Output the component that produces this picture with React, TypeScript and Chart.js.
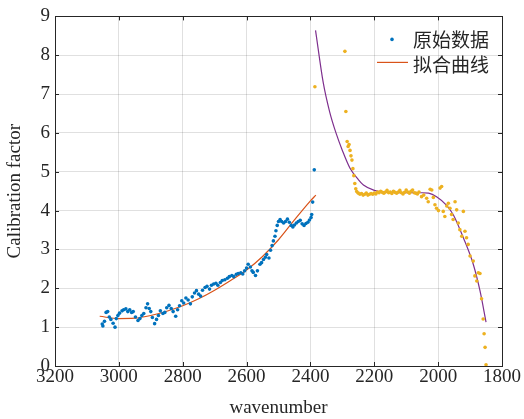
import React, { useEffect, useRef } from "react";
import { Chart, registerables } from "chart.js";
Chart.register(...registerables);

// Left block: raw data (blue) and its fit (orange)
const rawX1 = [3052, 3050, 3045, 3040, 3035, 3030, 3025, 3018, 3012, 3008, 3003, 2998, 2990, 2985, 2978, 2972, 2966, 2960, 2955, 2948, 2940, 2934, 2928, 2922, 2915, 2910, 2905, 2900, 2895, 2888, 2882, 2876, 2870, 2862, 2856, 2850, 2843, 2836, 2830, 2822, 2816, 2810, 2803, 2797, 2790, 2783, 2776, 2770, 2763, 2757, 2750, 2744, 2738, 2730, 2724, 2716, 2710, 2703, 2696, 2690, 2682, 2676, 2668, 2660, 2654, 2646, 2640, 2632, 2626, 2618, 2612, 2606, 2600, 2595, 2588, 2583, 2579, 2572, 2566, 2558, 2553, 2547, 2541, 2537, 2530, 2525, 2520, 2516, 2511, 2508, 2504, 2500, 2495, 2490, 2484, 2478, 2472, 2466, 2460, 2455, 2450, 2444, 2438, 2432, 2426, 2420, 2414, 2408, 2403, 2398, 2396, 2393, 2388];
const rawY1 = [1.08, 1.03, 1.15, 1.38, 1.4, 1.26, 1.2, 1.1, 1.0, 1.22, 1.3, 1.36, 1.42, 1.45, 1.47, 1.4, 1.45, 1.38, 1.4, 1.26, 1.17, 1.22, 1.3, 1.35, 1.5, 1.6, 1.48, 1.4, 1.25, 1.09, 1.2, 1.3, 1.42, 1.35, 1.38, 1.5, 1.56, 1.48, 1.4, 1.28, 1.45, 1.55, 1.68, 1.62, 1.75, 1.7, 1.6, 1.78, 1.88, 1.94, 1.85, 1.8, 1.95, 2.02, 2.05, 1.98, 2.08, 2.11, 2.13, 2.08, 2.15, 2.2, 2.22, 2.26, 2.3, 2.33, 2.3, 2.36, 2.38, 2.4, 2.37, 2.45, 2.52, 2.62, 2.55, 2.45, 2.41, 2.33, 2.45, 2.62, 2.66, 2.74, 2.8, 2.87, 2.78, 2.98, 3.1, 3.22, 3.34, 3.48, 3.62, 3.72, 3.77, 3.72, 3.68, 3.72, 3.78, 3.7, 3.62, 3.58, 3.63, 3.68, 3.72, 3.75, 3.66, 3.62, 3.67, 3.7, 3.76, 3.82, 3.9, 4.22, 5.05];
const fitX1 = [3060, 3000, 2950, 2900, 2850, 2800, 2750, 2700, 2650, 2600, 2550, 2500, 2450, 2400, 2383];
const fitY1 = [1.28, 1.22, 1.23, 1.3, 1.41, 1.55, 1.73, 1.95, 2.2, 2.47, 2.82, 3.25, 3.76, 4.25, 4.4];

// Right block: raw data (yellow) and its fit (purple)
const rawX2 = [2386, 2292, 2289, 2285, 2282, 2279, 2276, 2273, 2270, 2267, 2264, 2261, 2258, 2255, 2250, 2245, 2240, 2235, 2230, 2225, 2220, 2215, 2210, 2205, 2200, 2195, 2190, 2185, 2180, 2175, 2170, 2165, 2160, 2155, 2150, 2145, 2140, 2135, 2130, 2125, 2120, 2115, 2110, 2105, 2100, 2095, 2090, 2085, 2080, 2075, 2070, 2065, 2060, 2052, 2045, 2036, 2031, 2025, 2020, 2015, 2010, 2005, 1999, 1994, 1989, 1984, 1979, 1973, 1968, 1963, 1958, 1953, 1947, 1942, 1937, 1932, 1926, 1921, 1916, 1911, 1906, 1900, 1890, 1885, 1879, 1874, 1869, 1864, 1859, 1856, 1853, 1850];
const rawY2 = [7.19, 8.1, 6.55, 5.78, 5.65, 5.7, 5.55, 5.41, 5.3, 5.08, 4.9, 4.7, 4.56, 4.49, 4.45, 4.42, 4.44, 4.4, 4.42, 4.45, 4.4, 4.42, 4.44, 4.42, 4.45, 4.43, 4.48, 4.46, 4.5, 4.47, 4.45, 4.48, 4.52, 4.46, 4.48, 4.44, 4.5, 4.47, 4.45, 4.48, 4.52, 4.46, 4.43, 4.47, 4.53, 4.48, 4.45, 4.5, 4.53, 4.46, 4.45, 4.43, 4.48, 4.36, 4.4, 4.32, 4.23, 4.55, 4.53, 4.34, 4.15, 4.06, 4.0, 4.58, 4.62, 3.98, 3.85, 4.12, 4.19, 4.06, 3.9, 3.77, 4.23, 4.02, 3.68, 3.51, 3.34, 3.98, 3.47, 3.3, 3.13, 2.83, 2.7, 2.32, 2.19, 2.4, 2.38, 1.73, 1.21, 0.83, 0.48, 0.03];
const fitX2 = [2384, 2360, 2340, 2320, 2300, 2276, 2250, 2234, 2200, 2182, 2150, 2100, 2050, 2030, 2005, 1975, 1953, 1921, 1890, 1869, 1850];
const fitY2 = [8.64, 7.3, 6.55, 6.0, 5.55, 5.09, 4.8, 4.66, 4.52, 4.49, 4.47, 4.46, 4.46, 4.45, 4.36, 4.15, 3.9, 3.3, 2.62, 1.94, 1.13];

const xTicks = [3200, 3000, 2800, 2600, 2400, 2200, 2000, 1800];
const yTicks = [0, 1, 2, 3, 4, 5, 6, 7, 8, 9];
const legendLabels = ["原始数据", "拟合曲线"];
const xTitle = "wavenumber";
const yTitle = "Calibration factor";

const BLUE = "#0072BD";
const ORANGE = "#D95319";
const YELLOW = "#EDB120";
const PURPLE = "#7E2F8E";
const SERIF = "'Liberation Serif', 'Times New Roman', serif";

const zip = (xs: number[], ys: number[]) => xs.map((x, i) => ({ x, y: ys[i] }));

const framePlugin = {
  id: "frame",
  afterDraw(chart: any) {
    const { ctx, chartArea: a, scales } = chart;
    ctx.save();
    ctx.strokeStyle = "#262626";
    ctx.lineWidth = 1;
    ctx.strokeRect(Math.round(a.left) + 0.5, Math.round(a.top) + 0.5, Math.round(a.right - a.left), Math.round(a.bottom - a.top));
    const tl = 4;
    ctx.beginPath();
    xTicks.forEach((v) => {
      const px = Math.round(scales.x.getPixelForValue(v)) + 0.5;
      ctx.moveTo(px, a.bottom);
      ctx.lineTo(px, a.bottom - tl);
      ctx.moveTo(px, a.top);
      ctx.lineTo(px, a.top + tl);
    });
    yTicks.forEach((v) => {
      const py = Math.round(scales.y.getPixelForValue(v)) + 0.5;
      ctx.moveTo(a.left, py);
      ctx.lineTo(a.left + tl, py);
      ctx.moveTo(a.right, py);
      ctx.lineTo(a.right - tl, py);
    });
    ctx.stroke();

    // legend (top right, inside the axes, no box)
    const lx = a.right - 125;
    const ly = a.top + 23;
    ctx.fillStyle = BLUE;
    ctx.beginPath();
    ctx.arc(lx + 15, ly, 1.8, 0, Math.PI * 2);
    ctx.fill();
    ctx.strokeStyle = ORANGE;
    ctx.lineWidth = 1.2;
    ctx.beginPath();
    ctx.moveTo(lx, ly + 23);
    ctx.lineTo(lx + 31, ly + 23);
    ctx.stroke();
    ctx.fillStyle = "#262626";
    ctx.font = "19px 'Noto Sans CJK SC'";
    ctx.textBaseline = "middle";
    ctx.textAlign = "left";
    ctx.fillText(legendLabels[0], lx + 36, ly);
    ctx.fillText(legendLabels[1], lx + 36, ly + 25);
    ctx.restore();
  },
};

export default function App() {
  const ref = useRef<HTMLCanvasElement>(null);
  useEffect(() => {
    document.body.style.margin = "0";
    Chart.defaults.font.family = SERIF;
    Chart.defaults.font.size = 19;
    const chart = new Chart(ref.current!, {
      type: "scatter",
      data: {
        datasets: [
          { label: legendLabels[0], data: zip(rawX1, rawY1), showLine: false, pointRadius: 1.8, pointBorderWidth: 0, backgroundColor: BLUE, borderColor: BLUE, clip: 4 },
          { label: legendLabels[1], data: zip(fitX1, fitY1), showLine: true, pointRadius: 0, borderWidth: 1.2, borderColor: ORANGE, tension: 0.4, cubicInterpolationMode: "monotone" },
          { label: "raw2", data: zip(rawX2, rawY2), showLine: false, pointRadius: 1.8, pointBorderWidth: 0, backgroundColor: YELLOW, borderColor: YELLOW, clip: 4 },
          { label: "fit2", data: zip(fitX2, fitY2), showLine: true, pointRadius: 0, borderWidth: 1.2, borderColor: PURPLE, tension: 0.4, cubicInterpolationMode: "monotone" },
        ],
      } as any,
      options: {
        responsive: false,
        animation: false,
        layout: { padding: { top: 13, right: 22, left: 0, bottom: 0 } },
        plugins: { legend: { display: false }, tooltip: { enabled: false } },
        scales: {
          x: {
            type: "linear",
            reverse: true,
            min: 1800,
            max: 3200,
            afterBuildTicks: (s: any) => { s.ticks = xTicks.map((v) => ({ value: v })); },
            afterFit: (s: any) => { s.height = 53; },
            ticks: { color: "#262626", font: { family: SERIF, size: 19 }, padding: 0, maxRotation: 0, autoSkip: false, callback: (v: any) => String(v) },
            grid: { color: "rgba(0,0,0,0.12)", drawTicks: false },
            border: { display: false },
            title: { display: true, text: xTitle, color: "#262626", font: { family: SERIF, size: 19 }, padding: { top: 0, bottom: 0 } },
          },
          y: {
            type: "linear",
            min: 0,
            max: 9,
            afterBuildTicks: (s: any) => { s.ticks = yTicks.map((v) => ({ value: v })); },
            afterFit: (s: any) => { s.width = 55; },
            ticks: { color: "#262626", font: { family: SERIF, size: 19 }, padding: 5, autoSkip: false, callback: (v: any) => String(v) },
            grid: { color: "rgba(0,0,0,0.12)", drawTicks: false },
            border: { display: false },
            title: { display: true, text: yTitle, color: "#262626", font: { family: SERIF, size: 19 }, padding: { top: 4, bottom: 0 } },
          },
        },
      } as any,
      plugins: [framePlugin],
    });
    return () => chart.destroy();
  }, []);
  return (
    <div style={{ width: 524, height: 419 }}>
      <canvas ref={ref} width={524} height={419} />
    </div>
  );
}
